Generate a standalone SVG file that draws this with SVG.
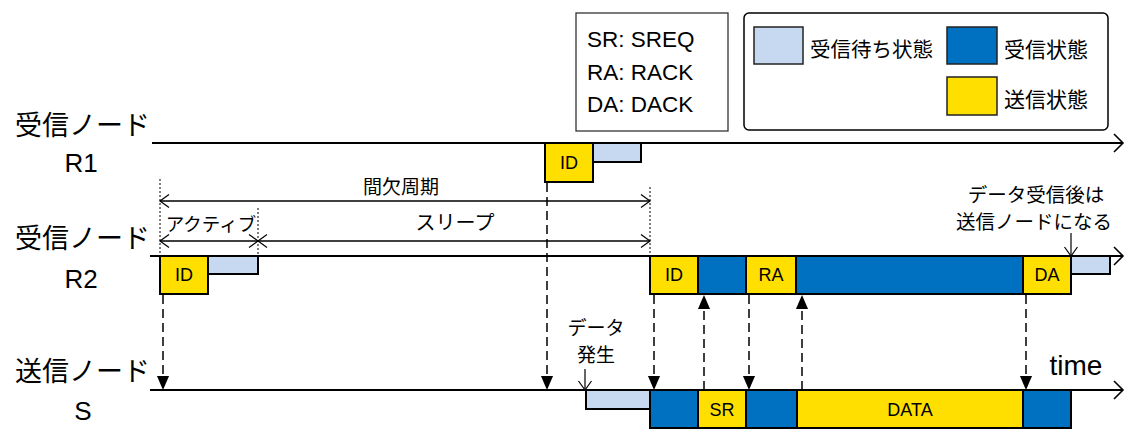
<svg xmlns="http://www.w3.org/2000/svg" width="1128" height="438" viewBox="0 0 1128 438">
<defs>
<style>
.tl{stroke:#000;stroke-width:2;fill:none}
.box{stroke:#000;stroke-width:2}
.y{fill:#FFDF00}
.b{fill:#0070C0}
.lb{fill:#C6D9F1}
.dash{stroke:#000;stroke-width:1.5;stroke-dasharray:9 5;fill:none}
.dot{stroke:#000;stroke-width:1;stroke-dasharray:2 2;fill:none}
.dim{stroke:#000;stroke-width:1.2;fill:none}
.jp{font-family:"Noto Sans CJK JP","Noto Sans",sans-serif;fill:#000}
.en{font-family:"Liberation Sans",Arial,sans-serif;fill:#000}
.bt{font-family:"Liberation Sans",Arial,sans-serif;font-size:18px;text-anchor:middle;fill:#000}
</style>
<marker id="open" markerUnits="userSpaceOnUse" markerWidth="20" markerHeight="24" refX="10" refY="10" orient="auto" viewBox="0 0 20 20">
<path d="M1,1 L10,10 L1,19" fill="none" stroke="#000" stroke-width="1.6"/>
</marker>
<marker id="dimhead" markerUnits="userSpaceOnUse" markerWidth="14" markerHeight="16" refX="10" refY="7" orient="auto" viewBox="0 0 14 14">
<path d="M1,0.5 L10,7 L1,13.5" fill="none" stroke="#000" stroke-width="1.2"/>
</marker>
<marker id="fill" markerUnits="userSpaceOnUse" markerWidth="14" markerHeight="16" refX="15" refY="6.5" orient="auto" viewBox="0 0 15 13">
<path d="M0,0 L15,6.5 L0,13 Z" fill="#000"/>
</marker>
</defs>

<g id="labels">
<text class="jp" x="15" y="135" font-size="27">受信ノード</text>
<text class="en" x="81" y="172" font-size="26" text-anchor="middle">R1</text>
<text class="jp" x="15" y="248" font-size="27">受信ノード</text>
<text class="en" x="81" y="288" font-size="26" text-anchor="middle">R2</text>
<text class="jp" x="15" y="381" font-size="27">送信ノード</text>
<text class="en" x="83" y="420" font-size="26" text-anchor="middle">S</text>
<text class="en" x="1076" y="375" font-size="28" text-anchor="middle">time</text>
</g>

<g id="abbrev">
<rect x="576" y="13" width="152" height="118" fill="#fff" stroke="#333" stroke-width="1.3"/>
<text class="en" x="587" y="47" font-size="22.5">SR: SREQ</text>
<text class="en" x="587" y="80" font-size="22.5">RA: RACK</text>
<text class="en" x="587" y="112" font-size="22.5">DA: DACK</text>
</g>

<g id="legend">
<rect x="744" y="13" width="364" height="117" rx="5" fill="#fff" stroke="#000" stroke-width="1.5"/>
<rect x="754" y="27" width="49" height="37" class="lb" stroke="#222" stroke-width="1.5"/>
<text class="jp" x="810" y="57" font-size="20.5">受信待ち状態</text>
<rect x="947" y="27" width="50" height="37" class="b" stroke="#222" stroke-width="1.5"/>
<text class="jp" x="1004" y="57" font-size="21">受信状態</text>
<rect x="947" y="77" width="50" height="38" class="y" stroke="#222" stroke-width="1.5"/>
<text class="jp" x="1004" y="107" font-size="21">送信状態</text>
</g>

<g id="timeline-R1">
<line class="tl" x1="152" y1="143" x2="1123" y2="143" marker-end="url(#open)"/>
<rect class="box lb" x="593" y="143" width="48" height="19"/>
<rect class="box y" x="545" y="143" width="48" height="39"/>
<text class="bt" x="569" y="169">ID</text>
</g>

<g id="intervals">
<line class="dot" x1="160" y1="179" x2="160" y2="256"/>
<line class="dot" x1="258" y1="208" x2="258" y2="256"/>
<line class="dot" x1="650" y1="187" x2="650" y2="256"/>
<line class="dim" x1="650" y1="201" x2="160" y2="201" marker-end="url(#dimhead)"/>
<line class="dim" x1="160" y1="201" x2="650" y2="201" marker-end="url(#dimhead)"/>
<line class="dim" x1="258" y1="241" x2="160" y2="241" marker-end="url(#dimhead)"/>
<line class="dim" x1="160" y1="241" x2="258" y2="241" marker-end="url(#dimhead)"/>
<line class="dim" x1="650" y1="241" x2="258" y2="241" marker-end="url(#dimhead)"/>
<line class="dim" x1="258" y1="241" x2="650" y2="241" marker-end="url(#dimhead)"/>
<text class="jp" x="401" y="194" font-size="19" text-anchor="middle">間欠周期</text>
<text class="jp" x="211" y="231" font-size="18.5" text-anchor="middle">アクティブ</text>
<text class="jp" x="455" y="230" font-size="20" text-anchor="middle">スリープ</text>
</g>

<g id="timeline-R2">
<line class="tl" x1="150" y1="256" x2="1123" y2="256" marker-end="url(#open)"/>
<rect class="box lb" x="208" y="256" width="50" height="18"/>
<rect class="box y" x="160" y="256" width="48" height="38"/>
<text class="bt" x="184" y="281">ID</text>
<rect class="box lb" x="1071" y="256" width="39" height="18"/>
<rect class="box y" x="650" y="256" width="48" height="38"/>
<text class="bt" x="674" y="281">ID</text>
<rect class="box b" x="698" y="256" width="48" height="38"/>
<rect class="box y" x="746" y="256" width="50" height="38"/>
<text class="bt" x="771" y="281">RA</text>
<rect class="box b" x="796" y="256" width="227" height="38"/>
<rect class="box y" x="1023" y="256" width="48" height="38"/>
<text class="bt" x="1047" y="281">DA</text>
</g>

<g id="timeline-S">
<line class="tl" x1="150" y1="390" x2="1123" y2="390" marker-end="url(#open)"/>
<rect class="box lb" x="586" y="390" width="64" height="19"/>
<rect class="box b" x="650" y="390" width="48" height="38"/>
<rect class="box y" x="698" y="390" width="48" height="38"/>
<text class="bt" x="722" y="416">SR</text>
<rect class="box b" x="746" y="390" width="51" height="38"/>
<rect class="box y" x="797" y="390" width="226" height="38"/>
<text class="bt" x="910" y="416">DATA</text>
<rect class="box b" x="1023" y="390" width="48" height="38"/>
</g>

<g id="notes">
<text class="jp" x="596" y="335" font-size="19" text-anchor="middle">データ</text>
<text class="jp" x="596" y="362" font-size="19" text-anchor="middle">発生</text>
<line class="dim" x1="585" y1="369" x2="585" y2="390" marker-end="url(#dimhead)"/>
<text class="jp" x="1036" y="202" font-size="19.5" text-anchor="middle">データ受信後は</text>
<text class="jp" x="1034" y="229" font-size="19.5" text-anchor="middle">送信ノードになる</text>
<line class="dim" x1="1071" y1="233" x2="1071" y2="256" marker-end="url(#dimhead)"/>
</g>

<g id="connectors">
<line class="dash" x1="163" y1="295" x2="163" y2="390" marker-end="url(#fill)"/>
<line class="dash" x1="547" y1="183" x2="547" y2="390" marker-end="url(#fill)"/>
<line class="dash" x1="654" y1="295" x2="654" y2="390" marker-end="url(#fill)"/>
<line class="dash" x1="749" y1="295" x2="749" y2="390" marker-end="url(#fill)"/>
<line class="dash" x1="1026" y1="295" x2="1026" y2="390" marker-end="url(#fill)"/>
<line class="dash" x1="704" y1="390" x2="704" y2="295" marker-end="url(#fill)"/>
<line class="dash" x1="802" y1="390" x2="802" y2="295" marker-end="url(#fill)"/>
</g>
</svg>
